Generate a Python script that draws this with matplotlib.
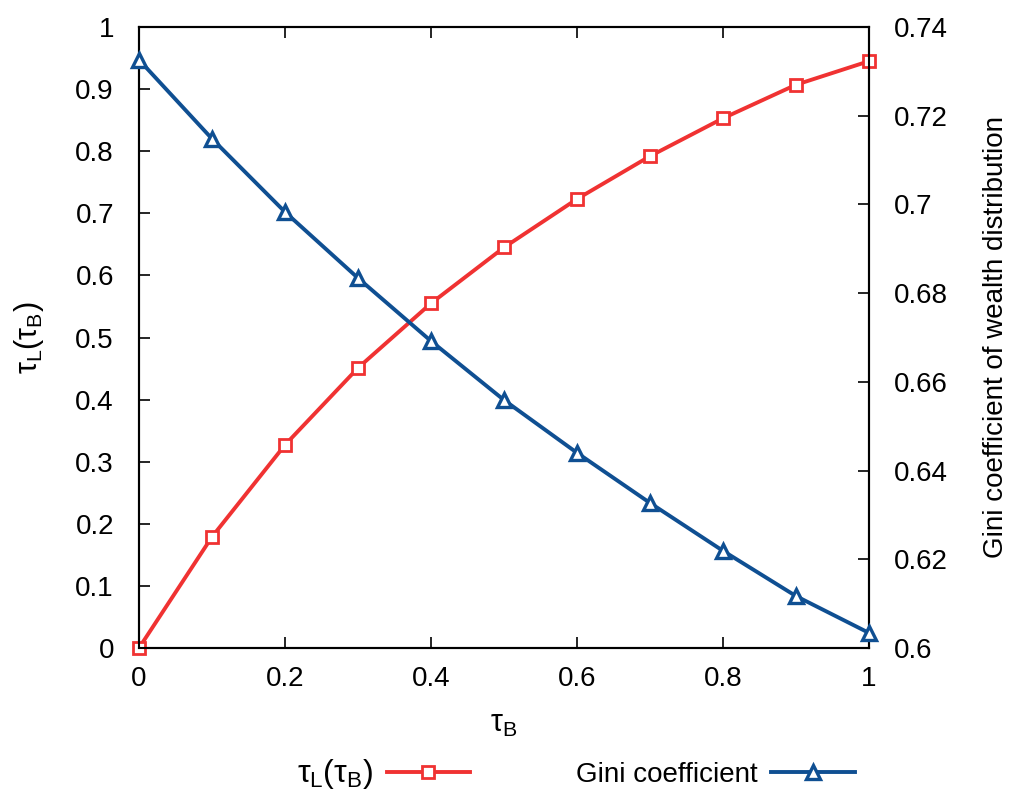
import matplotlib
matplotlib.use("Agg")
import matplotlib.pyplot as plt
from matplotlib.ticker import FuncFormatter

plt.rcParams['font.family'] = ['Liberation Sans', 'DejaVu Sans']
plt.rcParams['mathtext.fontset'] = 'custom'
plt.rcParams['mathtext.rm'] = 'Liberation Sans'
plt.rcParams['mathtext.it'] = 'Liberation Sans'

tau_B = [0.0, 0.1, 0.2, 0.3, 0.4, 0.5, 0.6, 0.7, 0.8, 0.9, 1.0]
tau_L = [0.0, 0.179, 0.327, 0.451, 0.555, 0.645, 0.723, 0.792, 0.853, 0.907, 0.945]
gini = [0.7326, 0.7148, 0.6983, 0.6834, 0.6692, 0.6559, 0.6440, 0.6327, 0.6219, 0.6117, 0.6034]

xticks = [0, 0.2, 0.4, 0.6, 0.8, 1.0]
yticks_left = [0, 0.1, 0.2, 0.3, 0.4, 0.5, 0.6, 0.7, 0.8, 0.9, 1.0]
yticks_right = [0.6, 0.62, 0.64, 0.66, 0.68, 0.70, 0.72, 0.74]

red = '#f03232'
blue = '#0f4f92'
fs = 20

fig = plt.figure(figsize=(10.12, 7.91), dpi=100)
ax = fig.add_axes([139/1012, 1-648/791, (869-139)/1012, (648-27)/791])
ax2 = ax.twinx()

fmt = FuncFormatter(lambda v, p: ('%g' % round(v, 4)))

l1, = ax.plot(tau_B, tau_L, color=red, lw=2.8, marker='s', ms=9, mfc='white',
              mec=red, mew=2.0, label=r'$\tau_\mathrm{L}(\tau_\mathrm{B})$', clip_on=False, zorder=3)
l2, = ax2.plot(tau_B, gini, color=blue, lw=2.8, marker='^', ms=10.5, mfc='white',
               mec=blue, mew=2.4, label='Gini coefficient', clip_on=False, zorder=3)

ax.set_xlim(0, 1)
ax.set_ylim(0, 1)
ax2.set_ylim(0.6, 0.74)
ax.set_xticks(xticks)
ax.set_yticks(yticks_left)
ax2.set_yticks(yticks_right)
ax.xaxis.set_major_formatter(fmt)
ax.yaxis.set_major_formatter(fmt)
ax2.yaxis.set_major_formatter(fmt)

ax.tick_params(axis='x', direction='in', top=True, length=8, width=1.2, labelsize=fs, pad=13)
ax.tick_params(axis='y', direction='in', right=False, length=8, width=1.2, labelsize=fs, pad=18)
ax2.tick_params(axis='y', direction='in', length=8, width=1.2, labelsize=fs, pad=18)
for a in (ax, ax2):
    for s in a.spines.values():
        s.set_linewidth(1.5)

ax.set_xlabel(r'$\tau_\mathrm{B}$', fontsize=fs + 2, labelpad=12)
ax.set_ylabel(r'$\tau_\mathrm{L}(\tau_\mathrm{B})$', fontsize=fs + 2, labelpad=21)
ax2.set_ylabel('Gini coefficient of wealth distribution', fontsize=fs, labelpad=25)

leg = fig.legend(handles=[l1, l2], loc='center', bbox_to_anchor=(0.569, 0.022), ncol=2,
                 frameon=False, markerfirst=False, fontsize=fs, handlelength=3.0,
                 columnspacing=3.8, handletextpad=0.5)
leg.get_texts()[0].set_fontsize(fs + 3)

fig.savefig('out.png', dpi=100)
